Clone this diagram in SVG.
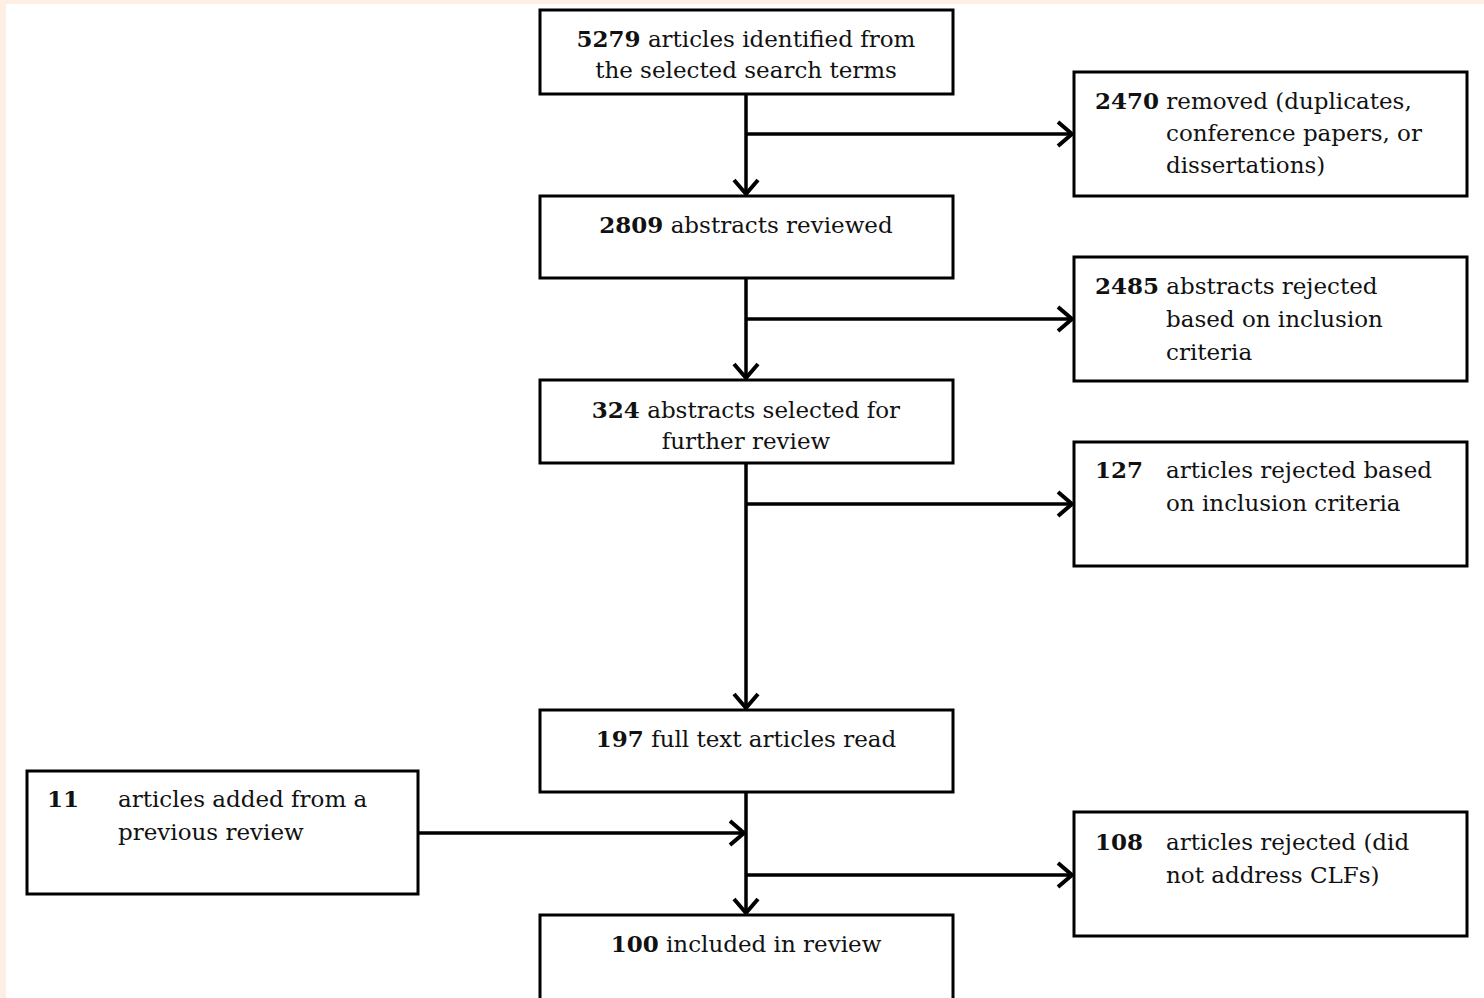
<svg xmlns="http://www.w3.org/2000/svg" width="1484" height="998" viewBox="0 0 1484 998">
<style>
.box{fill:#fff;stroke:#000;stroke-width:3}
.t{font-family:"DejaVu Serif","Liberation Serif",serif;font-size:23px;fill:#111}
.b{font-weight:bold}
.c{text-anchor:middle}
.ln{stroke:#000;stroke-width:3.5;fill:none}
</style>
<defs>
<marker id="arr" markerUnits="userSpaceOnUse" markerWidth="30" markerHeight="30" refX="20" refY="15" orient="auto" viewBox="0 0 30 30">
<path d="M6,3 L20,15 L6,27" fill="none" stroke="#000" stroke-width="4"/>
</marker>
</defs>
<rect x="0" y="0" width="1484" height="998" fill="#fff"/>
<rect x="0" y="0" width="1484" height="4" fill="#fdefe4"/>
<rect x="0" y="0" width="6" height="998" fill="#fdefe4"/>
<g id="connectors">
<line class="ln" x1="746" y1="94" x2="746" y2="194" marker-end="url(#arr)"/>
<line class="ln" x1="746" y1="134" x2="1072" y2="134" marker-end="url(#arr)"/>
<line class="ln" x1="746" y1="278" x2="746" y2="378" marker-end="url(#arr)"/>
<line class="ln" x1="746" y1="319" x2="1072" y2="319" marker-end="url(#arr)"/>
<line class="ln" x1="746" y1="463" x2="746" y2="708" marker-end="url(#arr)"/>
<line class="ln" x1="746" y1="504" x2="1072" y2="504" marker-end="url(#arr)"/>
<line class="ln" x1="746" y1="792" x2="746" y2="913" marker-end="url(#arr)"/>
<line class="ln" x1="418" y1="833" x2="744" y2="833" marker-end="url(#arr)"/>
<line class="ln" x1="746" y1="875" x2="1072" y2="875" marker-end="url(#arr)"/>
</g>
<g id="n5279">
<rect class="box" x="540" y="10" width="413" height="84"/>
<text class="t c" x="746" y="47"><tspan class="b">5279</tspan> articles identified from</text>
<text class="t c" x="746" y="78">the selected search terms</text>
</g>
<g id="n2470">
<rect class="box" x="1074" y="72" width="393" height="124"/>
<text class="t" x="1095" y="109"><tspan class="b">2470</tspan> removed (duplicates,</text>
<text class="t" x="1166" y="141">conference papers, or</text>
<text class="t" x="1166" y="173">dissertations)</text>
</g>
<g id="n2809">
<rect class="box" x="540" y="196" width="413" height="82"/>
<text class="t c" x="746" y="233"><tspan class="b">2809</tspan> abstracts reviewed</text>
</g>
<g id="n2485">
<rect class="box" x="1074" y="257" width="393" height="124"/>
<text class="t" x="1095" y="294"><tspan class="b">2485</tspan> abstracts rejected</text>
<text class="t" x="1166" y="327">based on inclusion</text>
<text class="t" x="1166" y="360">criteria</text>
</g>
<g id="n324">
<rect class="box" x="540" y="380" width="413" height="83"/>
<text class="t c" x="746" y="418"><tspan class="b">324</tspan> abstracts selected for</text>
<text class="t c" x="746" y="449">further review</text>
</g>
<g id="n127">
<rect class="box" x="1074" y="442" width="393" height="124"/>
<text class="t b" x="1095" y="478">127</text>
<text class="t" x="1166" y="478">articles rejected based</text>
<text class="t" x="1166" y="511">on inclusion criteria</text>
</g>
<g id="n197">
<rect class="box" x="540" y="710" width="413" height="82"/>
<text class="t c" x="746" y="747"><tspan class="b">197</tspan> full text articles read</text>
</g>
<g id="n11">
<rect class="box" x="27" y="771" width="391" height="123"/>
<text class="t b" x="47" y="807">11</text>
<text class="t" x="118" y="807">articles added from a</text>
<text class="t" x="118" y="840">previous review</text>
</g>
<g id="n108">
<rect class="box" x="1074" y="812" width="393" height="124"/>
<text class="t b" x="1095" y="850">108</text>
<text class="t" x="1166" y="850">articles rejected (did</text>
<text class="t" x="1166" y="883">not address CLFs)</text>
</g>
<g id="n100">
<rect class="box" x="540" y="915" width="413" height="100"/>
<text class="t c" x="746" y="952"><tspan class="b">100</tspan> included in review</text>
</g>
</svg>
